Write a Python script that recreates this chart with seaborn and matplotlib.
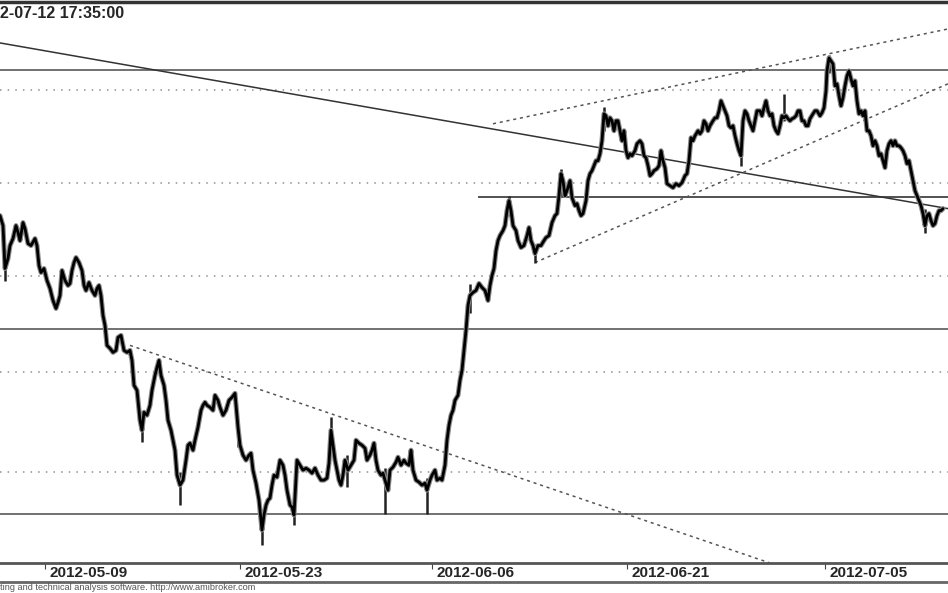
import numpy as np
import pandas as pd
import seaborn as sns
import matplotlib.pyplot as plt
from matplotlib.lines import Line2D
from matplotlib.transforms import ScaledTranslation

# bar position along the time axis and the traced close level (chart units, larger = lower)
bar = [0, 3, 5, 8, 10, 13, 16, 18, 20, 23, 25, 28, 31, 35, 37, 39, 41, 44, 47, 50,
       53, 56, 58, 60, 62, 65, 68, 70, 72, 74, 76, 79, 82, 84, 86, 89, 92, 95, 97, 99,
       101, 103, 105, 107, 110, 113, 116, 118, 121, 124, 127, 130, 132, 134, 137, 140, 142, 144, 147, 150,
       152, 155, 157, 159, 161, 164, 166, 168, 171, 173, 175, 177, 180, 183, 186, 188, 190, 193, 195, 198,
       201, 203, 205, 207, 210, 213, 215, 218, 220, 223, 226, 229, 232, 235, 238, 240, 243, 246, 249, 251,
       253, 256, 259, 262, 264, 266, 268, 270, 272, 274, 277, 280, 283, 285, 287, 290, 292, 294, 297, 300,
       303, 306, 309, 312, 315, 318, 321, 324, 327, 329, 331, 333, 335, 337, 339, 341, 343, 345, 348, 351,
       354, 356, 359, 362, 365, 367, 370, 372, 374, 376, 378, 381, 383, 385, 388, 390, 393, 396, 398, 401,
       404, 406, 409, 411, 413, 416, 419, 422, 425, 427, 430, 432, 435, 437, 440, 442, 445, 447, 449, 451,
       453, 455, 458, 460, 462, 464, 466, 468, 470, 473, 476, 479, 482, 485, 488, 490, 492, 494, 496, 498,
       500, 503, 505, 507, 509, 511, 513, 516, 518, 521, 524, 527, 529, 531, 533, 535, 538, 541, 544, 546,
       549, 552, 555, 557, 559, 561, 563, 565, 567, 570, 572, 575, 577, 579, 581, 583, 586, 588, 590, 592,
       594, 596, 598, 600, 602, 604, 606, 608, 610, 612, 614, 616, 618, 620, 622, 624, 626, 628, 630, 632,
       635, 637, 640, 642, 644, 646, 648, 650, 652, 654, 657, 659, 661, 663, 665, 667, 670, 673, 676, 679,
       682, 685, 687, 689, 691, 693, 695, 698, 700, 702, 704, 706, 708, 710, 713, 715, 717, 719, 721, 723,
       725, 727, 729, 731, 733, 735, 737, 739, 741, 743, 745, 747, 749, 751, 753, 755, 757, 760, 762, 764,
       766, 768, 770, 772, 774, 776, 778, 780, 782, 784, 786, 788, 790, 792, 794, 796, 798, 800, 802, 804,
       806, 808, 810, 813, 815, 817, 820, 822, 824, 826, 827, 829, 831, 833, 835, 837, 839, 841, 843, 845,
       847, 849, 851, 853, 855, 857, 859, 861, 863, 865, 867, 869, 871, 873, 875, 877, 879, 881, 883, 885,
       887, 889, 891, 893, 895, 897, 899, 901, 903, 905, 907, 909, 911, 913, 915, 917, 919, 921, 923, 925,
       927, 929, 931, 933, 935, 937, 939, 941, 943]
close = [215, 225, 268, 258, 245, 238, 225, 232, 240, 222, 228, 243, 245, 238, 245, 265, 272, 268, 280, 288,
         300, 308, 302, 295, 270, 280, 285, 283, 270, 262, 257, 262, 270, 285, 290, 282, 290, 295, 288, 285,
         295, 315, 325, 345, 348, 352, 350, 337, 335, 350, 352, 350, 360, 385, 390, 420, 430, 412, 415, 405,
         390, 375, 367, 360, 375, 385, 400, 420, 430, 440, 450, 475, 485, 480, 460, 445, 443, 450, 440, 427,
         410, 405, 402, 405, 407, 410, 395, 400, 407, 415, 410, 400, 397, 393, 427, 445, 455, 460, 455, 453,
         470, 483, 500, 530, 515, 505, 500, 498, 485, 475, 477, 460, 465, 475, 490, 505, 507, 515, 460, 465,
         470, 468, 470, 473, 468, 475, 480, 480, 478, 463, 430, 445, 460, 470, 480, 485, 475, 460, 470, 465,
         460, 440, 443, 445, 448, 460, 455, 450, 443, 460, 470, 475, 473, 480, 490, 470, 467, 462, 457, 465,
         460, 463, 465, 450, 470, 480, 482, 485, 483, 490, 480, 475, 470, 480, 478, 480, 465, 440, 425, 415,
         410, 400, 395, 380, 370, 350, 330, 305, 295, 292, 290, 283, 287, 290, 300, 285, 275, 268, 250, 240,
         235, 230, 225, 210, 200, 210, 225, 230, 240, 247, 245, 235, 227, 240, 245, 253, 245, 245, 240, 237,
         235, 222, 215, 213, 195, 173, 180, 195, 190, 180, 197, 205, 203, 210, 215, 213, 200, 180, 173, 170,
         165, 160, 160, 153, 140, 113, 115, 125, 117, 120, 130, 120, 120, 130, 140, 130, 150, 157, 153, 155,
         150, 143, 140, 143, 155, 157, 165, 175, 173, 170, 168, 165, 150, 160, 167, 183, 185, 187, 183, 185,
         182, 175, 173, 160, 137, 140, 135, 130, 133, 130, 120, 123, 130, 125, 120, 117, 117, 110, 100, 105,
         110, 115, 125, 127, 125, 135, 143, 150, 155, 120, 110, 113, 120, 125, 130, 120, 110, 110, 115, 107,
         100, 110, 115, 113, 125, 130, 133, 125, 115, 117, 115, 118, 120, 118, 117, 115, 110, 110, 120, 120,
         125, 125, 118, 113, 110, 110, 115, 112, 107, 90, 70, 57, 60, 63, 85, 83, 95, 105, 97, 85,
         75, 70, 78, 85, 80, 100, 113, 110, 115, 110, 130, 130, 135, 145, 140, 145, 155, 153, 160, 167,
         150, 143, 140, 145, 140, 145, 145, 147, 150, 155, 163, 160, 170, 180, 190, 195, 200, 205, 213, 225,
         215, 213, 220, 225, 223, 215, 210, 210, 208]

# high/low extremes of the bars that stick out
wick_bar = [5, 142, 180, 238, 262, 294, 331, 347, 385, 427, 470, 509, 535, 561, 604, 741, 784, 829, 925]
wick_high = [262, 422, 472, 420, 512, 500, 417, 455, 468, 478, 284, 195, 243, 168, 106, 143, 93, 54, 208]
wick_low = [280, 442, 505, 447, 545, 525, 447, 487, 514, 514, 313, 215, 262, 195, 130, 165, 120, 72, 232]

# horizontal support/resistance levels
level_full = [69, 329, 514]
level_partial = 196
level_partial_start = 478
grid_levels = [89, 182, 275, 372, 472]

# trend lines: (start bar, start level, end bar, end level)
solid_trend = (0, 42, 948, 208)
dotted_trends = [(130, 345, 770, 563), (493, 123, 948, 28), (535, 262, 948, 83)]

tick_bars = [45, 240, 432, 627, 825]
tick_labels = ['2012-05-09', '2012-05-23', '2012-06-06', '2012-06-21', '2012-07-05']

sns.set_style('white')
plt.rcParams['font.family'] = ['Liberation Sans', 'DejaVu Sans']

fig = plt.figure(figsize=(9.48, 5.93), dpi=100)
ax = fig.add_axes([0, 30 / 593, 1, 561 / 593])

df = pd.DataFrame({'bar': bar, 'close': close})

for lv in grid_levels:
    ax.axhline(lv, color='#8f8f8f', lw=1.1, ls=(0, (1, 4)), zorder=1)
for lv in level_full:
    ax.axhline(lv, color='#4a4a4a', lw=1.1, zorder=2)
ax.hlines(level_partial, level_partial_start, 948, color='#222222', lw=1.1, zorder=2)

ax.plot([solid_trend[0], solid_trend[2]], [solid_trend[1], solid_trend[3]],
        color='#333333', lw=1.1, zorder=2)
for x0, y0, x1, y1 in dotted_trends:
    ax.plot([x0, x1], [y0, y1], color='#555555', lw=1.1, ls=(0, (2, 2.5)), zorder=2)

ax.vlines(wick_bar, wick_high, wick_low, color='#222222', lw=1.8, zorder=3)
# gray underlay mimics the bar bodies, black line on top
sns.lineplot(data=df, x='bar', y='close', color='#8a8a8a', linewidth=3.6, ax=ax, zorder=3)
sns.lineplot(data=df, x='bar', y='close', color='black', linewidth=2.0, ax=ax, zorder=4)

ax.set_xlim(0, 948)
ax.set_ylim(563, 1)
ax.set_xlabel('')
ax.set_ylabel('')
ax.set_yticks([])
ax.set_xticks(tick_bars)
ax.set_xticklabels(tick_labels, fontsize=11, fontweight='bold', ha='left')
ax.tick_params(axis='x', direction='out', length=4, width=0.8, color='#444444', pad=-2,
               bottom=True)
offset = ScaledTranslation(3 / 72, 0, fig.dpi_scale_trans)
for lab in ax.get_xticklabels():
    lab.set_transform(lab.get_transform() + offset)

for side in ['left', 'right']:
    ax.spines[side].set_visible(False)
ax.spines['bottom'].set_color('#555555')
ax.spines['bottom'].set_linewidth(2)
ax.spines['top'].set_color('#333333')
ax.spines['top'].set_linewidth(2.5)

fig.add_artist(Line2D([0, 1], [1 - 582 / 593, 1 - 582 / 593], color='#666666', lw=2))

ax.text(0, 5, '2-07-12 17:35:00', fontsize=11.5, fontweight='bold', va='top', ha='left',
        transform=ax.transData)
fig.text(0.0, 1 - 590 / 593, 'ting and technical analysis software. http://www.amibroker.com',
         fontsize=6.6, color='#555555', ha='left', va='baseline')

fig.savefig('out.png', dpi=100)
